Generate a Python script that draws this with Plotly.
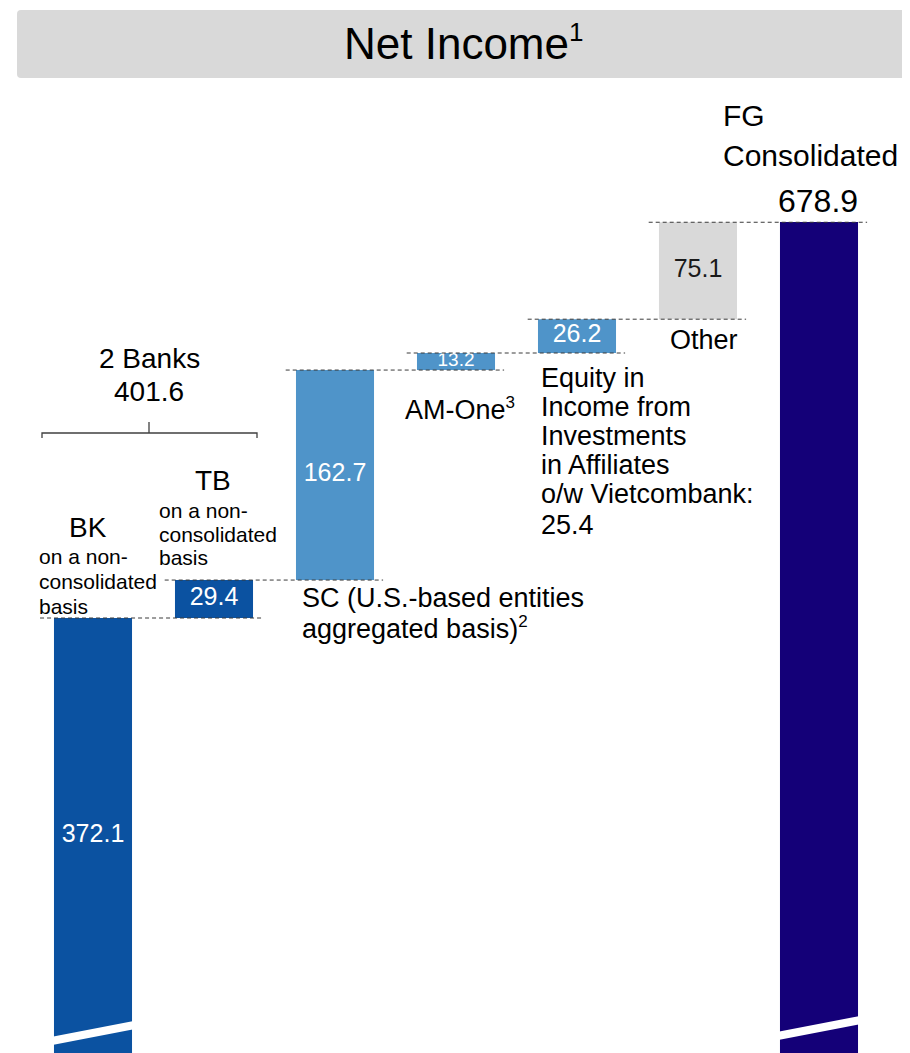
import plotly.graph_objects as go

# ---- data ----
categories = ["BK", "TB", "SC", "AM-One", "Equity in Income from Investments in Affiliates", "Other", "FG Consolidated"]
values = [372.1, 29.4, 162.7, 13.2, 26.2, 75.1, 678.9]
measures = ["absolute", "relative", "relative", "relative", "relative", "relative", "total"]
value_labels = ["372.1", "29.4", "162.7", "13.2", "26.2", "75.1", ""]
two_banks_total = "401.6"
fg_total_label = "678.9"

# ---- style ----
colors = ["#0B52A1", "#0B52A1", "#4F94C9", "#4F94C9", "#4F94C9", "#D9D9D9", "#140078"]
label_colors = ["white", "white", "white", "white", "white", "#1a1a1a", "white"]
label_sizes = [25, 25, 25, 19, 25, 25, 25]
FONT = "Arial, Liberation Sans, sans-serif"
W, H = 910, 1053
OFF = 8           # page offset of the figure (body margin)
BAR_W = 0.645

# waterfall bases
bases, tops = [], []
run = 0.0
for v, m in zip(values, measures):
    if m == "absolute":
        b = 0.0
        run = v
    elif m == "relative":
        b = run
        run = run + v
    else:
        b = 0.0
        run = v
    bases.append(b)
    tops.append(b + v)

xs = list(range(len(categories)))

# axis ranges (layout): category 0 centred at page x=93, 121 px per category;
# first bar top at page y=618, last bar top at page y=222
XS = 121.0
X0 = -(93 - OFF) / XS
X1 = X0 + W / XS
S = (618 - 222) / (tops[-1] - tops[0])
Y1 = tops[-1] + (222 - OFF) / S
Y0 = Y1 - H / S
VIS_LO = Y0 + OFF / S

fig = go.Figure()
fig.add_trace(go.Bar(
    x=xs, y=values, base=bases, width=BAR_W,
    marker=dict(color=colors, line=dict(width=0)),
    hovertext=categories, hoverinfo="text",
))

# bar value labels as a text trace in data coordinates
lab_x, lab_y, lab_t, lab_c, lab_s = [], [], [], [], []
for i, (lab, b, v) in enumerate(zip(value_labels, bases, values)):
    if not lab:
        continue
    lo = max(b, VIS_LO)
    lab_x.append(i)
    lab_y.append((lo + b + v) / 2)
    lab_t.append(lab)
    lab_c.append(label_colors[i])
    lab_s.append(label_sizes[i])
fig.add_trace(go.Scatter(
    x=lab_x, y=lab_y, text=lab_t, mode="text", textposition="middle center",
    textfont=dict(family=FONT, size=lab_s, color=lab_c),
    hoverinfo="skip", cliponaxis=False,
))


def px(x):
    return (x - OFF) / W


def py(y):
    return 1 - (y - OFF) / H


def sup(t, size):
    return f"<sup><span style='font-size:{size}px'>{t}</span></sup>"


ann = []


def txt(text, x, y, size, anchor="left", color="black"):
    ann.append(dict(text=text, x=px(x), y=py(y), xref="paper", yref="paper",
                    xanchor=anchor, yanchor="middle", showarrow=False,
                    font=dict(family=FONT, size=size, color=color)))


# title
txt("Net Income" + sup("1", 26), 463, 43, 44, "center")

# category labels
txt("FG", 721, 116, 30)
txt("Consolidated", 721, 155, 30)
txt(fg_total_label, 818, 201, 32, "center")
txt("Other", 668, 340, 27)
for t, y in zip(["Equity in", "Income from", "Investments", "in Affiliates",
                 "o/w Vietcombank:", "25.4"], [378, 407, 436, 465, 494, 525]):
    txt(t, 539, y, 27)
txt("AM-One" + sup("3", 17), 403, 409, 27)
txt("SC (U.S.-based entities", 300, 598, 27)
txt("aggregated basis)" + sup("2", 17), 300, 628, 27)
txt("2 Banks", 149, 358, 28, "center")
txt(two_banks_total, 149, 392, 28, "center")
txt("TB", 213, 480, 28, "center")
for t, y in zip(["on a non-", "consolidated", "basis"], [510, 534, 558]):
    txt(t, 157, y, 21)
txt("BK", 88, 527, 28, "center")
for t, y in zip(["on a non-", "consolidated", "basis"], [556, 581, 606]):
    txt(t, 37, y, 21)

shapes = []
# title box with slightly rounded corners
x0, x1, y0, y1, r = 17, 905, 10, 78, 4
path = (f"M {px(x0 + r)},{py(y0)} L {px(x1 - r)},{py(y0)} Q {px(x1)},{py(y0)} {px(x1)},{py(y0 + r)} "
        f"L {px(x1)},{py(y1 - r)} Q {px(x1)},{py(y1)} {px(x1 - r)},{py(y1)} "
        f"L {px(x0 + r)},{py(y1)} Q {px(x0)},{py(y1)} {px(x0)},{py(y1 - r)} "
        f"L {px(x0)},{py(y0 + r)} Q {px(x0)},{py(y0)} {px(x0 + r)},{py(y0)} Z")
shapes.append(dict(type="path", path=path, xref="paper", yref="paper",
                   fillcolor="#D9D9D9", line=dict(width=0), layer="below"))

# dashed connectors between consecutive bars
for i in range(len(categories) - 1):
    left_ext = 0.115 if i == 0 else 0.085
    shapes.append(dict(type="line", xref="x", yref="y",
                       x0=i - BAR_W / 2 - left_ext, x1=i + 1 + BAR_W / 2 + 0.075,
                       y0=tops[i], y1=tops[i],
                       line=dict(color="#3a3a3a", width=1, dash="4px,3px")))

# bracket for 2 banks
bp = (f"M {px(42)},{py(438)} L {px(42)},{py(433)} L {px(257)},{py(433)} L {px(257)},{py(438)} "
      f"M {px(149)},{py(433)} L {px(149)},{py(422)}")
shapes.append(dict(type="path", path=bp, xref="paper", yref="paper",
                   line=dict(color="#404040", width=1.3)))

# axis-break marks on the first and last bars
for i, (yl, yr) in zip([0, 6], [(1041, 1025), (1036, 1020)]):
    shapes.append(dict(type="line", xref="x", yref="paper",
                       x0=i - BAR_W / 2 - 0.02, x1=i + BAR_W / 2 + 0.02,
                       y0=py(yl), y1=py(yr),
                       line=dict(color="white", width=8)))

fig.update_layout(
    width=W, height=H,
    margin=dict(l=0, r=0, t=0, b=0),
    paper_bgcolor="white", plot_bgcolor="white",
    showlegend=False,
    xaxis=dict(visible=False, range=[X0, X1], fixedrange=True),
    yaxis=dict(visible=False, range=[Y0, Y1], fixedrange=True),
    annotations=ann, shapes=shapes,
    font=dict(family=FONT),
)

fig.write_html("out.html")
